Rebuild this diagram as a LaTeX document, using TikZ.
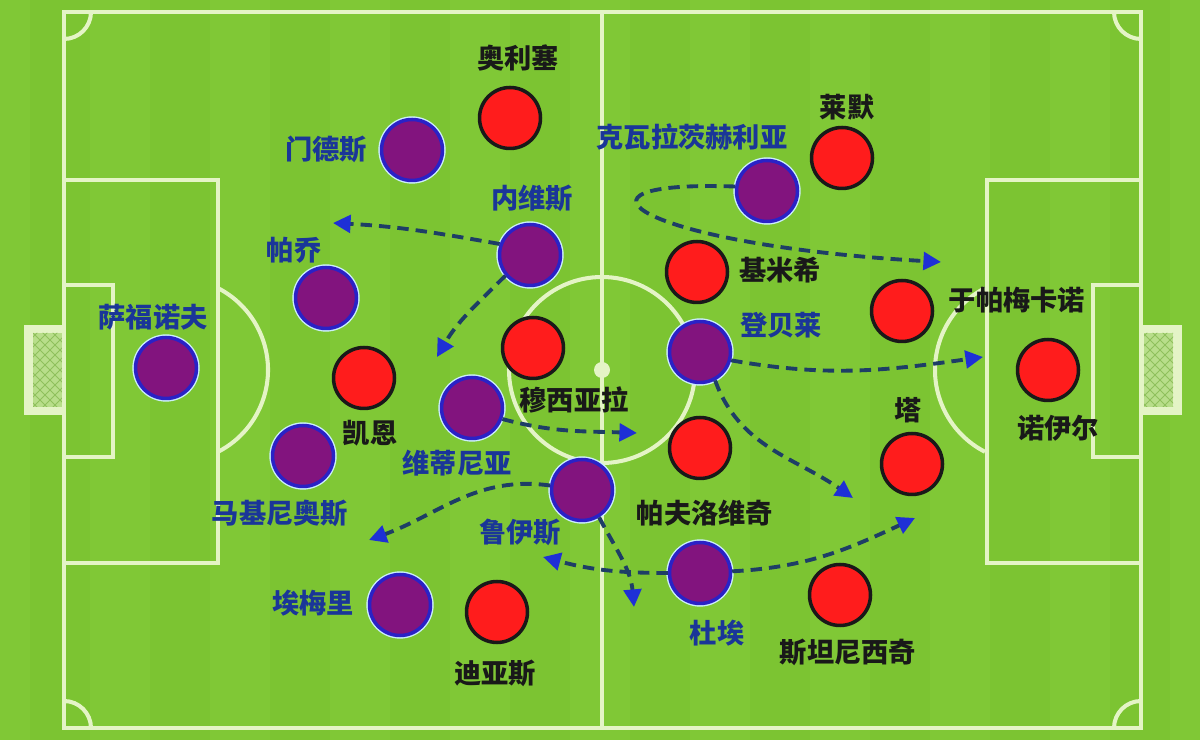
\documentclass[tikz,border=0pt]{standalone}
\usepackage{fontspec}
\newfontfamily\cjk{Noto Sans CJK SC}
\usetikzlibrary{arrows.meta}

\definecolor{grass}{HTML}{80C836}
\definecolor{grassdark}{HTML}{7CC432}
\definecolor{chalk}{HTML}{E4F4C6}
\definecolor{netgreen}{HTML}{B8DE8A}
\definecolor{netline}{HTML}{8FC05C}
\definecolor{psgpurple}{HTML}{82147E}
\definecolor{psgblue}{HTML}{2A22C6}
\definecolor{fcbred}{HTML}{FF1C1C}
\definecolor{namesblue}{HTML}{1A3698}
\definecolor{runnavy}{HTML}{1E3E66}
\definecolor{tipblue}{HTML}{1E30D6}

\begin{document}
\begin{tikzpicture}[x=0.02cm, y=0.02cm,
    line/.style={draw=chalk, line width=2.3pt},
    psg/.style={circle, minimum size=1.22cm, inner sep=0pt, fill=psgpurple, draw=psgblue, line width=2pt, preaction={draw=white!80!cyan, line width=3.6pt}},
    fcb/.style={circle, minimum size=1.22cm, inner sep=0pt, fill=fcbred, draw=black!90, line width=2pt},
    blab/.style={font=\cjk\bfseries\fontsize{15.5}{18}\selectfont, text=namesblue, inner sep=1pt},
    klab/.style={font=\cjk\bfseries\fontsize{15.5}{18}\selectfont, text=black!90, inner sep=1pt},
    sprint/.style={draw=runnavy, line width=2.2pt, dash pattern=on 6.5pt off 4pt, -{Triangle[length=10pt, width=10pt, color=tipblue]}}]

    % Grass
    \useasboundingbox (0,0) rectangle (1200,740);
    \fill[grass] (0,0) rectangle (1200,740);
    \foreach \s in {0,2,...,18}
        \fill[grassdark] (\s*60+30,0) rectangle ++(60,740);

    % Goals
    \fill[chalk] (24,325) rectangle (64,415);
    \fill[netgreen] (33,333) rectangle (62,407);
    \fill[chalk] (1141,325) rectangle (1182,415);
    \fill[netgreen] (1144,333) rectangle (1173,407);
    \begin{scope}
        \clip (33,333) rectangle (62,407) (1144,333) rectangle (1173,407);
        \foreach \k in {-40,-30,...,120} {
            \draw[netline, line width=0.5pt] (20,300+\k) -- ++(60,60);
            \draw[netline, line width=0.5pt] (20,440-\k) -- ++(60,-60);
            \draw[netline, line width=0.5pt] (1130,300+\k) -- ++(60,60);
            \draw[netline, line width=0.5pt] (1130,440-\k) -- ++(60,-60);
        }
    \end{scope}

    % Pitch lines
    \draw[line] (64,12) rectangle (1141,728);
    \draw[line] (602,12) -- (602,728);
    \draw[line] (64,177) rectangle (218,560);
    \draw[line] (64,283) rectangle (113,455);
    \draw[line] (987,177) rectangle (1141,560);
    \draw[line] (1093,283) rectangle (1141,455);
    \draw[line] (602,370) circle (93);
    \fill[chalk] (602,370) circle (8);
    \draw[line] ([shift={(176,370)}]-62.8:92) arc[start angle=-62.8, end angle=62.8, radius=92];
    \draw[line] ([shift={(1027,370)}]117.2:92) arc[start angle=117.2, end angle=242.8, radius=92];
    \draw[line] (91,728) arc[start angle=0, end angle=-90, radius=27];
    \draw[line] (64,39) arc[start angle=90, end angle=0, radius=27];
    \draw[line] (1114,728) arc[start angle=180, end angle=270, radius=27];
    \draw[line] (1141,39) arc[start angle=90, end angle=180, radius=27];

    % Paris
    \node[psg] (saf) at (166,372) {};
    \node[psg] (mendes) at (412,590) {};
    \node[psg] (pacho) at (326,442) {};
    \node[psg] (marq) at (303,284) {};
    \node[psg] (emery) at (400,135) {};
    \node[psg] (neves) at (530,485) {};
    \node[psg] (vit) at (472,332) {};
    \node[psg] (ruiz) at (582,250) {};
    \node[psg] (kvara) at (767,549) {};
    \node[psg] (demb) at (700,388) {};
    \node[psg] (doue) at (700,167) {};

    \node[blab] (tsaf) at (153,423) {萨福诺夫};
    \node[blab] (tmendes) at (326,591) {门德斯};
    \node[blab] (tpacho) at (294,490) {帕乔};
    \node[blab] (tmarq) at (280,227) {马基尼奥斯};
    \node[blab] (temery) at (313,137) {埃梅里};
    \node[blab] (tneves) at (532,542) {内维斯};
    \node[blab] (tvit) at (457,277) {维蒂尼亚};
    \node[blab] (truiz) at (520,208) {鲁伊斯};
    \node[blab] (tkvara) at (692,603) {克瓦拉茨赫利亚};
    \node[blab] (tdemb) at (781,415) {登贝莱};
    \node[blab] (tdoue) at (717,107) {杜埃};

    % Bayern
    \node[fcb] (olise) at (510,622) {};
    \node[fcb] (kane) at (364,362) {};
    \node[fcb] (diaz) at (497,128) {};
    \node[fcb] (musiala) at (533,392) {};
    \node[fcb] (kimm) at (697,468) {};
    \node[fcb] (pavl) at (700,292) {};
    \node[fcb] (laimer) at (842,582) {};
    \node[fcb] (upam) at (902,429) {};
    \node[fcb] (tah) at (912,276) {};
    \node[fcb] (stan) at (840,145) {};
    \node[fcb] (neuer) at (1048,370) {};

    \node[klab] (tolise) at (518,682) {奥利塞};
    \node[klab] (tkane) at (370,307) {凯恩};
    \node[klab] (tdiaz) at (495,67) {迪亚斯};
    \node[klab] (tmusiala) at (574,340) {穆西亚拉};
    \node[klab] (tkimm) at (780,470) {基米希};
    \node[klab] (tpavl) at (705,227) {帕夫洛维奇};
    \node[klab] (tlaimer) at (847,633) {莱默};
    \node[klab] (tupam) at (1017,440) {于帕梅卡诺};
    \node[klab] (ttah) at (908,330) {塔};
    \node[klab] (tstan) at (848,88) {斯坦尼西奇};
    \node[klab] (tneuer) at (1058,312) {诺伊尔};

    % Runs
    \coordinate (tipA) at (333,517);
    \coordinate (tipB) at (437,383);
    \coordinate (tipC) at (637,307);
    \coordinate (tipD) at (369,200);
    \coordinate (tipE) at (634,133);
    \coordinate (tipF) at (543,183);
    \coordinate (tipG) at (915,222);
    \coordinate (tipH) at (983,383);
    \coordinate (tipI) at (853,242);
    \coordinate (tipJ) at (941,478);

    \draw[sprint] (neves.160) to[out=170, in=-3] (tipA);
    \draw[sprint] (neves.220) to[out=225, in=60] (tipB);
    \draw[sprint] (vit.-20) to[out=-15, in=178] (tipC);
    \draw[sprint] (ruiz.172) to[out=172, in=20] (tipD);
    \draw[sprint] (ruiz.-58) to[out=-62, in=95] (tipE);
    \draw[sprint] (doue.180) to[out=180, in=-15] (tipF);
    \draw[sprint] (doue.3) to[out=3, in=205] (tipG);
    \draw[sprint] (demb.-15) to[out=-10, in=188] (tipH);
    \draw[sprint] (demb.-62) to[out=-70, in=145] (tipI);
    \draw[sprint] (kvara.172) .. controls (545,560) and (640,495) .. (tipJ);

\end{tikzpicture}
\end{document}
